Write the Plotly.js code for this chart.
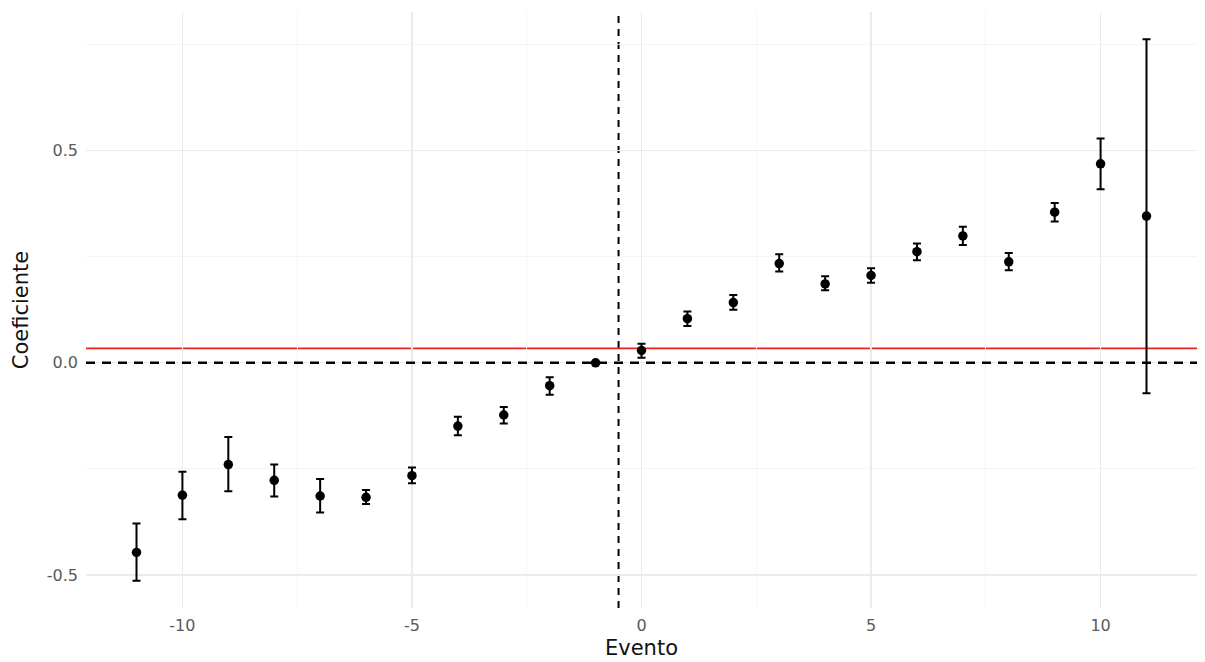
<!DOCTYPE html>
<html>
<head>
<meta charset="utf-8">
<script src="https://cdn.plot.ly/plotly-3.0.1.min.js"></script>
<style>html,body{margin:0;padding:0;background:#fff;}#chart{width:1205px;height:662px;}</style>
</head>
<body>
<div id="chart"></div>
<script>
// Event time
const evento = [-11,-10,-9,-8,-7,-6,-5,-4,-3,-2,-1,0,1,2,3,4,5,6,7,8,9,10,11];
// Point estimates
const coeficiente = [-0.447,-0.312,-0.240,-0.277,-0.314,-0.317,-0.266,-0.149,-0.123,-0.054,0.000,0.029,0.104,0.142,0.234,0.186,0.206,0.262,0.299,0.238,0.355,0.469,0.346];
// Confidence interval bounds
const ciUpper = [-0.379,-0.257,-0.175,-0.240,-0.274,-0.300,-0.247,-0.127,-0.104,-0.034,0.000,0.045,0.121,0.160,0.256,0.204,0.223,0.281,0.321,0.259,0.377,0.529,0.763];
const ciLower = [-0.514,-0.369,-0.303,-0.315,-0.353,-0.333,-0.284,-0.171,-0.143,-0.075,0.000,0.012,0.087,0.125,0.215,0.171,0.189,0.242,0.278,0.218,0.333,0.409,-0.072];
// Reference lines
const refRed = 0.034;
const eventLine = -0.5;

const errPlus = coeficiente.map((v,i)=>ciUpper[i]-v);
const errMinus = coeficiente.map((v,i)=>v-ciLower[i]);

const font = "DejaVu Sans, sans-serif";

const trace = {
  x: evento, y: coeficiente, type: 'scatter', mode: 'markers',
  marker: {color: '#000', size: 9.5},
  error_y: {type: 'data', symmetric: false, array: errPlus, arrayminus: errMinus,
            color: '#000', thickness: 2, width: 4},
  showlegend: false, hoverinfo: 'x+y'
};

const layout = {
  width: 1205, height: 662,
  margin: {l: 86, r: 8, t: 12, b: 54},
  paper_bgcolor: '#fff', plot_bgcolor: '#fff',
  font: {family: font, color: '#4d4d4d'},
  xaxis: {
    range: [-12.1, 12.1], tickvals: [-10,-5,0,5,10], ticktext: ['-10','-5','0','5','10'],
    showgrid: true, gridcolor: '#ebebeb', gridwidth: 1.3, zeroline: false, showline: false,
    ticks: '', ticklabelstandoff: 6, tickfont: {size: 16, color: '#5a5a5a'},
    minor: {tickvals: [-7.5,-2.5,2.5,7.5], showgrid: true, gridcolor: '#f2f2f2', gridwidth: 0.8, ticks: ''},
    title: {text: 'Evento', font: {size: 21, color: '#111'}, standoff: 6}
  },
  yaxis: {
    range: [-0.578, 0.827], tickvals: [-0.5, 0, 0.5], ticktext: ['-0.5','0.0','0.5'],
    showgrid: true, gridcolor: '#ebebeb', gridwidth: 1.3, zeroline: false, showline: false,
    ticks: '', ticklabelstandoff: 7, tickfont: {size: 16, color: '#5a5a5a'},
    minor: {tickvals: [-0.25, 0.25, 0.75], showgrid: true, gridcolor: '#f2f2f2', gridwidth: 0.8, ticks: ''},
    title: {text: 'Coeficiente', font: {size: 21, color: '#111'}, standoff: 12}
  },
  shapes: [
    {type: 'line', xref: 'x', yref: 'paper', x0: eventLine, x1: eventLine, y0: 0, y1: 1,
     line: {color: '#000', width: 2, dash: '7px,6px'}, layer: 'between'},
    {type: 'line', xref: 'paper', yref: 'y', x0: 0, x1: 1, y0: 0, y1: 0,
     line: {color: '#000', width: 2.4, dash: '9px,7px'}, layer: 'above'},
    {type: 'line', xref: 'paper', yref: 'y', x0: 0, x1: 1, y0: refRed, y1: refRed,
     line: {color: '#e8241c', width: 1.6}, layer: 'between'}
  ]
};

Plotly.newPlot('chart', [trace], layout, {displayModeBar: false, staticPlot: true});
</script>
</body>
</html>
